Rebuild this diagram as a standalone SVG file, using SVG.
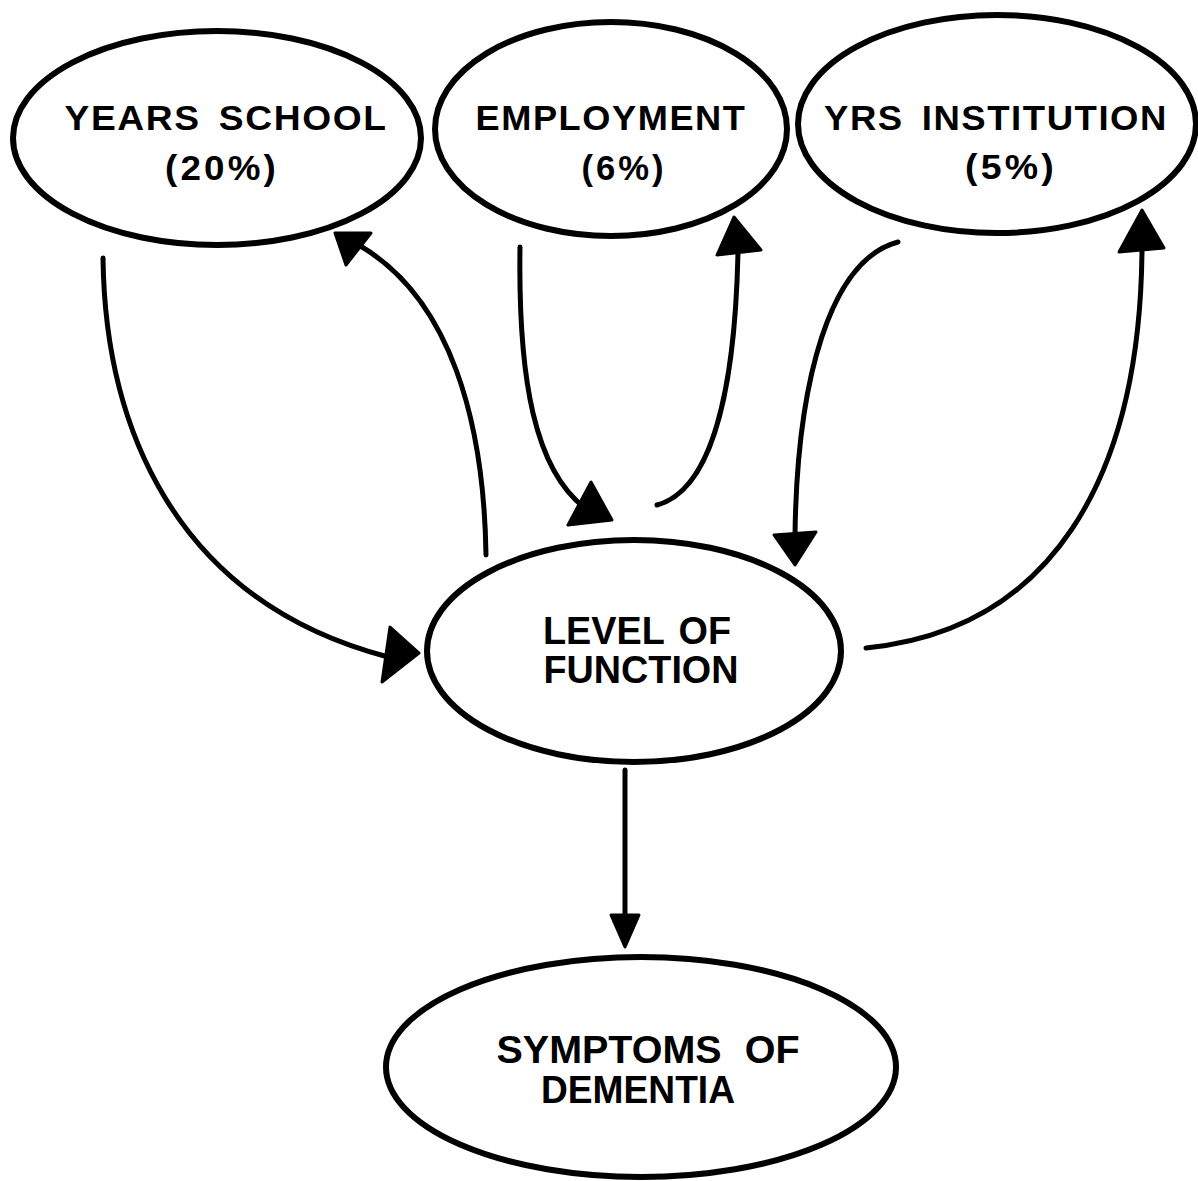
<svg xmlns="http://www.w3.org/2000/svg" width="1198" height="1181" viewBox="0 0 1198 1181">
  <style>
    .node ellipse { fill: #ffffff; stroke: #000000; stroke-width: 6; }
    .node text { font-family: "Liberation Sans", Arial, Helvetica, sans-serif; font-weight: bold; fill: #000000; text-anchor: middle; }
    .small { font-size: 35px; letter-spacing: 1.5px; word-spacing: 6px; }
    .pct { font-size: 35px; letter-spacing: 3px; }
    .big { font-size: 39px; word-spacing: 4px; }
    .edge { fill: none; stroke: #000000; stroke-width: 5; stroke-linecap: round; }
    .head { fill: #000000; stroke: #000000; stroke-width: 3; stroke-linejoin: round; }
  </style>
  <rect x="0" y="0" width="1198" height="1181" fill="#ffffff"/>

  <!-- connectors -->
  <g id="connectors">
    <!-- years school -> level of function -->
    <path class="edge" d="M103,258 C105,420 170,600 388,657"/>
    <polygon class="head" points="419,653 390,627 382,682"/>
    <!-- level of function -> years school -->
    <path class="edge" d="M486,555 C484,420 450,300 362,247"/>
    <polygon class="head" points="335,233 371,233 346,265"/>
    <!-- employment -> level of function -->
    <path class="edge" d="M520,247 C518,380 535,470 585,508"/>
    <polygon class="head" points="612,520 591,482 568,525"/>
    <!-- level of function -> employment -->
    <path class="edge" d="M657,505 C712,490 735,390 738,252"/>
    <polygon class="head" points="734,217 717,255 761,250"/>
    <!-- yrs institution -> level of function -->
    <path class="edge" d="M898,242 C830,260 797,380 795,535"/>
    <polygon class="head" points="795,565 774,535 816,532"/>
    <!-- level of function -> yrs institution -->
    <path class="edge" d="M866,648 C1050,630 1140,480 1142,250"/>
    <polygon class="head" points="1142,210 1119,252 1164,248"/>
    <!-- level of function -> symptoms of dementia -->
    <path class="edge" d="M625,770 L625,915"/>
    <polygon class="head" points="625,947 611,915 639,915"/>
  </g>

  <g id="years-school" class="node">
    <ellipse cx="217" cy="138" rx="204" ry="107"/>
    <text class="small" x="226" y="130" textLength="323" lengthAdjust="spacingAndGlyphs">YEARS SCHOOL</text>
    <text class="pct" x="222" y="180" textLength="114" lengthAdjust="spacingAndGlyphs">(20%)</text>
  </g>

  <g id="employment" class="node">
    <ellipse cx="611" cy="129" rx="176" ry="107"/>
    <text class="small" x="611" y="130" textLength="271" lengthAdjust="spacingAndGlyphs">EMPLOYMENT</text>
    <text class="pct" x="624" y="180" textLength="85" lengthAdjust="spacingAndGlyphs">(6%)</text>
  </g>

  <g id="yrs-institution" class="node">
    <ellipse cx="997" cy="124" rx="199" ry="109"/>
    <text class="small" x="996" y="130" textLength="344" lengthAdjust="spacingAndGlyphs">YRS INSTITUTION</text>
    <text class="pct" x="1011" y="179" textLength="92" lengthAdjust="spacingAndGlyphs">(5%)</text>
  </g>

  <g id="level-of-function" class="node">
    <ellipse cx="634" cy="651" rx="207" ry="111"/>
    <text class="big" x="637" y="644" textLength="188" lengthAdjust="spacingAndGlyphs">LEVEL OF</text>
    <text class="big" x="641" y="683" textLength="195" lengthAdjust="spacingAndGlyphs">FUNCTION</text>
  </g>

  <g id="symptoms-of-dementia" class="node">
    <ellipse cx="641" cy="1067" rx="255" ry="110"/>
    <text class="big" x="648" y="1063" textLength="303" lengthAdjust="spacingAndGlyphs" style="word-spacing: 12px">SYMPTOMS OF</text>
    <text class="big" x="638" y="1103" textLength="194" lengthAdjust="spacingAndGlyphs">DEMENTIA</text>
  </g>
</svg>
